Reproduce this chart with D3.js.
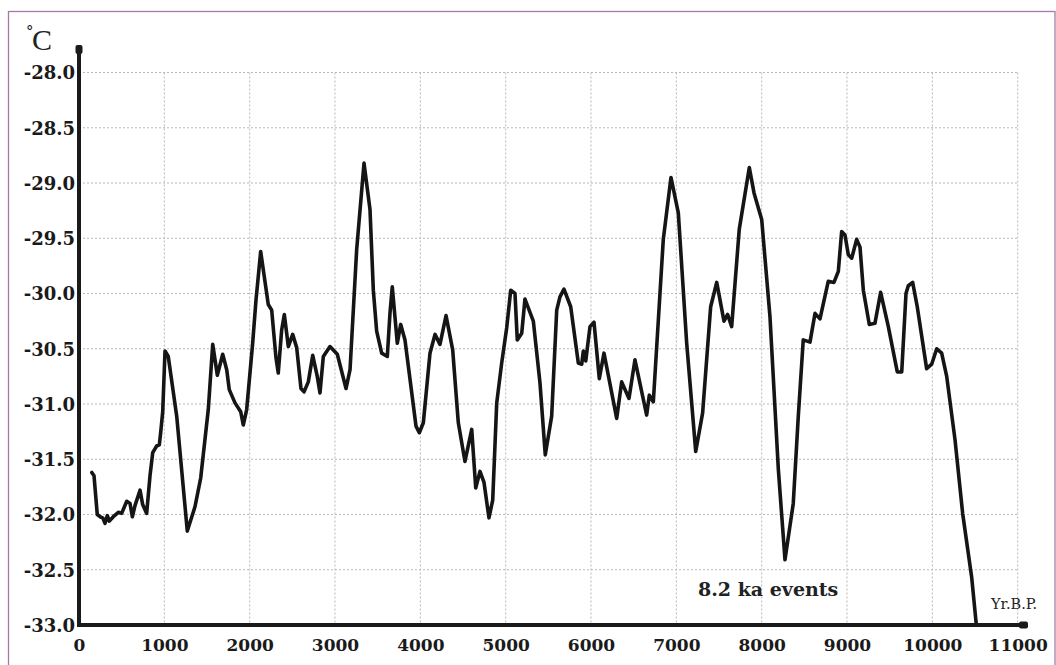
<!DOCTYPE html>
<html>
<head>
<meta charset="utf-8">
<script src="https://cdn.jsdelivr.net/npm/d3@7"></script>
<style>
  html, body { margin: 0; padding: 0; background: #fff; }
  svg { display: block; }
</style>
</head>
<body>
<svg id="chart" width="1056" height="665"></svg>
<script>
// ---- data ----
const years = [150,176,214,246,278,305,332,355,402,461,500,559,598,625,656,715,746,793,832,864,910,941,957,981,
  1008,1046,1145,1269,1359,1426,1515,1567,1621,1684,1731,1761,1828,1895,1925,1965,
  2035,2074,2129,2218,2258,2308,2335,2375,2406,2453,2504,2551,2601,2637,2687,2739,2792,2824,2863,2941,
  3027,3129,3176,3254,3340,3410,3449,3488,3547,3613,3644,3671,3730,3770,3820,3949,3988,
  4035,4113,4172,4230,4301,4379,4445,4523,4602,4649,4699,4746,4804,4848,4895,4953,
  5012,5059,5109,5136,5188,5226,5324,5402,5464,5539,5598,5636,5683,5762,5851,5891,5910,5938,5988,
  6035,6097,6152,6301,6359,6445,6515,6652,6683,6730,6847,6937,
  7023,7121,7227,7308,7402,7473,7558,7601,7648,7737,7855,7910,
  8000,8097,8195,8273,8370,8429,8487,8566,8625,8683,8780,8847,8898,8937,8976,
  9015,9055,9113,9152,9191,9261,9327,9394,9484,9589,9641,9691,9718,9769,9823,9933,9992,
  10051,10109,10168,10265,10355,10461,10514];
const temps = [-31.62,-31.65,-32.00,-32.02,-32.03,-32.08,-32.01,-32.06,-32.02,-31.98,-31.99,-31.88,-31.90,-32.02,-31.92,-31.78,-31.91,-31.99,-31.65,-31.44,-31.38,-31.37,-31.26,-31.07,
  -30.52,-30.57,-31.11,-32.15,-31.93,-31.67,-31.05,-30.46,-30.74,-30.55,-30.69,-30.87,-30.99,-31.07,-31.19,-31.05,
  -30.45,-30.06,-29.62,-30.10,-30.15,-30.58,-30.72,-30.33,-30.19,-30.48,-30.37,-30.49,-30.86,-30.89,-30.80,-30.56,-30.75,-30.90,-30.57,-30.48,
  -30.55,-30.86,-30.69,-29.60,-28.82,-29.24,-29.97,-30.34,-30.54,-30.57,-30.18,-29.94,-30.45,-30.28,-30.42,-31.20,-31.26,
  -31.17,-30.54,-30.37,-30.46,-30.20,-30.51,-31.17,-31.52,-31.23,-31.76,-31.61,-31.71,-32.03,-31.87,-30.99,-30.63,
  -30.31,-29.97,-30.00,-30.42,-30.36,-30.05,-30.25,-30.81,-31.46,-31.11,-30.15,-30.03,-29.96,-30.12,-30.63,-30.64,-30.52,-30.61,-30.30,
  -30.26,-30.77,-30.54,-31.13,-30.80,-30.95,-30.60,-31.10,-30.92,-30.98,-29.51,-28.95,
  -29.27,-30.45,-31.43,-31.08,-30.12,-29.90,-30.25,-30.19,-30.30,-29.42,-28.86,-29.09,
  -29.33,-30.21,-31.59,-32.41,-31.90,-31.11,-30.42,-30.44,-30.18,-30.23,-29.89,-29.90,-29.80,-29.44,-29.47,
  -29.65,-29.68,-29.51,-29.58,-29.97,-30.28,-30.27,-29.99,-30.30,-30.71,-30.71,-30.00,-29.93,-29.90,-30.12,-30.68,-30.64,
  -30.50,-30.54,-30.75,-31.32,-31.99,-32.57,-32.99];
const xTicks = [0,1000,2000,3000,4000,5000,6000,7000,8000,9000,10000,11000];
const yTicks = [-28.0,-28.5,-29.0,-29.5,-30.0,-30.5,-31.0,-31.5,-32.0,-32.5,-33.0];
const yUnit = "°C";
const xUnit = "Yr.B.P.";
const annotation = "8.2 ka events";

// ---- layout ----
const svg = d3.select("#chart");
const x = d3.scaleLinear().domain([0, 11000]).range([79, 1017.7]);
const y = d3.scaleLinear().domain([-33, -28]).range([625, 72.5]);
const serif = "'DejaVu Serif', 'Liberation Serif', serif";

// frame
svg.append("rect").attr("x", 8.5).attr("y", 11.5).attr("width", 1046.5).attr("height", 670)
  .attr("fill", "none").attr("stroke", "#a57ba5").attr("stroke-width", 1.3);

// grid
const grid = svg.append("g").attr("stroke", "#b8b8b8").attr("stroke-width", 1).attr("stroke-dasharray", "2,2");
grid.selectAll("line.h").data(yTicks.filter(d => d > -33)).join("line")
  .attr("x1", x(0)).attr("x2", x(11000)).attr("y1", d => y(d)).attr("y2", d => y(d));
grid.selectAll("line.v").data(xTicks.filter(d => d > 0)).join("line")
  .attr("x1", d => x(d)).attr("x2", d => x(d)).attr("y1", y(-28)).attr("y2", y(-33));

// axes using d3 axis generators (tick lines hidden)
const xAxis = d3.axisBottom(x).tickValues(xTicks).tickFormat(d3.format("d")).tickSize(0).tickPadding(14);
const yAxis = d3.axisLeft(y).tickValues(yTicks).tickFormat(d3.format(".1f")).tickSize(0).tickPadding(4);

const gx = svg.append("g").attr("transform", `translate(0,${y(-33)})`).call(xAxis);
const gy = svg.append("g").attr("transform", `translate(${x(0)},0)`).call(yAxis);
[gx, gy].forEach(g => {
  g.select(".domain").remove();
  g.selectAll("text").attr("font-family", serif).attr("font-weight", "bold")
    .attr("font-size", 18).attr("fill", "#1a1a1a");
});
gy.selectAll("text").attr("dy", "0.36em").text(d => d3.format(".1f")(d).replace("−", "-"));
gx.selectAll("text").attr("dy", "0.7em").attr("font-size", 17);

// data line
const line = d3.line().x((d, i) => x(years[i])).y(d => y(d)).curve(d3.curveLinear);
svg.append("path").datum(temps).attr("d", line)
  .attr("fill", "none").attr("stroke", "#151515").attr("stroke-width", 3.6)
  .attr("stroke-linejoin", "round").attr("stroke-linecap", "round");

// axis lines with end markers
svg.append("line").attr("x1", x(0)).attr("x2", x(0)).attr("y1", y(-33)).attr("y2", 47)
  .attr("stroke", "#1a1a1a").attr("stroke-width", 4);
svg.append("line").attr("x1", x(0) - 2).attr("x2", 1023).attr("y1", y(-33)).attr("y2", y(-33))
  .attr("stroke", "#1a1a1a").attr("stroke-width", 4);
svg.append("rect").attr("x", x(0) - 3.5).attr("y", 45).attr("width", 7).attr("height", 9).attr("rx", 2)
  .attr("fill", "#1a1a1a");
svg.append("rect").attr("x", 1019).attr("y", y(-33) - 3.5).attr("width", 9).attr("height", 7).attr("rx", 2)
  .attr("fill", "#1a1a1a");

// unit labels
svg.append("text").attr("x", 26).attr("y", 36).attr("font-family", serif).attr("font-size", 15)
  .attr("fill", "#222").text(yUnit.charAt(0));
svg.append("text").attr("x", 32).attr("y", 50).attr("font-family", "'Liberation Serif', serif").attr("font-size", 30)
  .attr("fill", "#222").text(yUnit.charAt(1));
svg.append("text").attr("x", 991).attr("y", 609).attr("font-family", serif).attr("font-size", 14.5)
  .attr("fill", "#222").text(xUnit);
svg.append("text").attr("x", 698).attr("y", 596).attr("font-family", serif).attr("font-weight", "bold")
  .attr("font-size", 19).attr("fill", "#222").text(annotation);
</script>
</body>
</html>
